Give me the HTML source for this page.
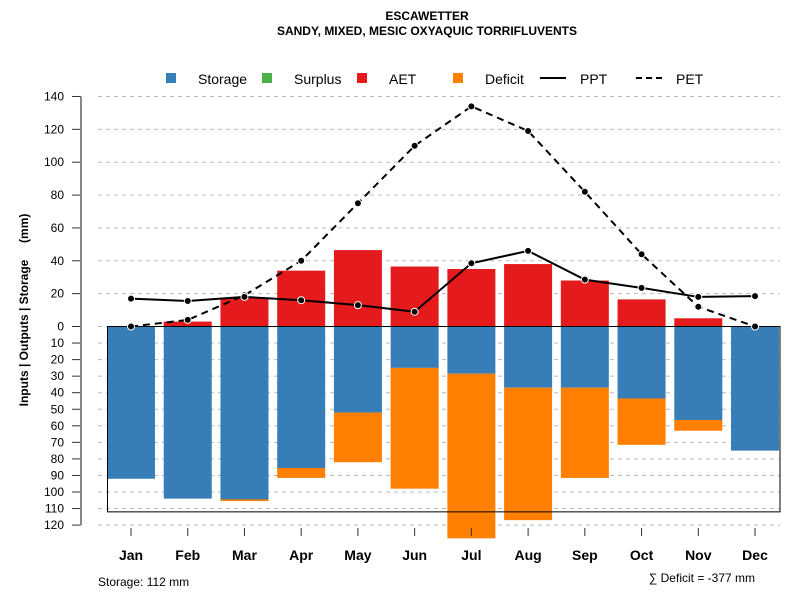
<!DOCTYPE html>
<html><head><meta charset="utf-8"><style>
body{margin:0;background:#fff}
svg text{font-family:"Liberation Sans",Arial,sans-serif}
</style></head><body>
<svg id="c" width="800" height="600">
<text x="427" y="20" text-anchor="middle" font-size="12" font-weight="bold">ESCAWETTER</text>
<text x="427" y="35" text-anchor="middle" font-size="12" font-weight="bold">SANDY, MIXED, MESIC OXYAQUIC TORRIFLUVENTS</text>
<g font-size="14">
<rect x="166" y="73" width="10" height="10" fill="#377eb8"/><text x="198" y="84">Storage</text>
<rect x="262" y="73" width="10" height="10" fill="#4daf4a"/><text x="294" y="84">Surplus</text>
<rect x="357" y="73" width="10" height="10" fill="#e41a1c"/><text x="389" y="84">AET</text>
<rect x="453" y="73" width="10" height="10" fill="#ff7f00"/><text x="485" y="84">Deficit</text>
<line x1="540" y1="78" x2="566" y2="78" stroke="#000" stroke-width="2"/><text x="580" y="84">PPT</text>
<line x1="636" y1="78" x2="662" y2="78" stroke="#000" stroke-width="2" stroke-dasharray="6,4"/><text x="676" y="84">PET</text>
</g>
<text transform="translate(28,310) rotate(-90)" text-anchor="middle" font-size="12" font-weight="bold" style="white-space:pre" xml:space="preserve">Inputs | Outputs | Storage     (mm)</text>
<text x="98" y="586" font-size="12">Storage: 112 mm</text>
<text x="755" y="582" text-anchor="end" font-size="12">∑ Deficit = -377 mm</text>
<g id="g"></g>
</svg>
<script>
const months=["Jan","Feb","Mar","Apr","May","Jun","Jul","Aug","Sep","Oct","Nov","Dec"];
const ppt=[17,15.5,18,16,13,9,38.5,46,28.5,23.5,18,18.5];
const pet=[0,4,19,40,75,110,134,119,82,44,12,0];
const aet=[0,3,17.6,34,46.5,36.5,35,38,28,16.5,5,0];
const storage=[92,104,104.5,85.5,52,25,28.5,37,37,43.5,56.5,75];
const deficit=[0,0,1,6,30,73,99.5,80,54.5,28,6.5,0];
const upTicks=[0,20,40,60,80,100,120,140];
const downTicks=[10,20,30,40,50,60,70,80,90,100,110,120];
const storageMax=112;
const NS="http://www.w3.org/2000/svg",g=document.getElementById("g");
const y0=326.5;
const yUp=v=>y0-v*1.643, yDn=v=>y0+v*1.655, xM=i=>131+i*56.73;
function mk(t,a,p){const e=document.createElementNS(NS,t);for(const k in a)e.setAttribute(k,a[k]);(p||g).appendChild(e);return e;}
upTicks.forEach(v=>{const y=yUp(v);
 const l=mk("line",{x1:98,x2:780,y1:y,y2:y,stroke:"#bbb","stroke-dasharray":"4,4"});
 
 
 const t=mk("line",{x1:72,x2:81,y1:y,y2:y,stroke:"#333"});
 
 
 const tx=mk("text",{x:64,y:y+4,"text-anchor":"end","font-size":12});tx.textContent=v;
 
 });
downTicks.forEach(v=>{const y=yDn(v);
 const l=mk("line",{x1:98,x2:780,y1:y,y2:y,stroke:"#bbb","stroke-dasharray":"4,4"});
 
 
 const t=mk("line",{x1:72,x2:81,y1:y,y2:y,stroke:"#333"});
 
 
 const tx=mk("text",{x:64,y:y+4,"text-anchor":"end","font-size":12});tx.textContent=v;
 
 });
const ax=mk("line",{x1:81,x2:81,y1:yUp(140),y2:yDn(120),stroke:"#888","stroke-width":2});


const bw=48;
months.forEach((m,i)=>{const x=xM(i)-bw/2;
 const s=mk("rect",{x:x,y:y0,width:bw,height:yDn(storage[i])-y0,fill:"#377eb8"});
 
 
 if(deficit[i]>0){const d=mk("rect",{x:x,y:yDn(storage[i]),width:bw,height:yDn(storage[i]+deficit[i])-yDn(storage[i]),fill:"#ff7f00"});
 
 }
 if(aet[i]>0){const a=mk("rect",{x:x,y:yUp(aet[i]),width:bw,height:y0-yUp(aet[i]),fill:"#e41a1c"});
 
 }
 const t=mk("line",{x1:xM(i),x2:xM(i),y1:528,y2:536,stroke:"#333"});
 
 
 const tx=mk("text",{x:xM(i),y:560,"text-anchor":"middle","font-size":14,"font-weight":"bold"});tx.textContent=m;
 
 });
const box=mk("rect",{x:107.5,y:y0,width:672.5,height:yDn(storageMax)-y0,fill:"none",stroke:"#000"});


function line(vals,dash,name){
 const p=mk("polyline",{points:vals.map((v,i)=>xM(i)+","+yUp(v)).join(" "),fill:"none",stroke:"#000","stroke-width":2,"stroke-dasharray":dash});
 
 
 vals.forEach((v,i)=>{const c=mk("circle",{cx:xM(i),cy:yUp(v),r:3.5,fill:"#000",stroke:"#fff","stroke-width":1});
 
 });
}
line(pet,"7,5","pet");
line(ppt,"none","ppt");
</script>
</body></html>
